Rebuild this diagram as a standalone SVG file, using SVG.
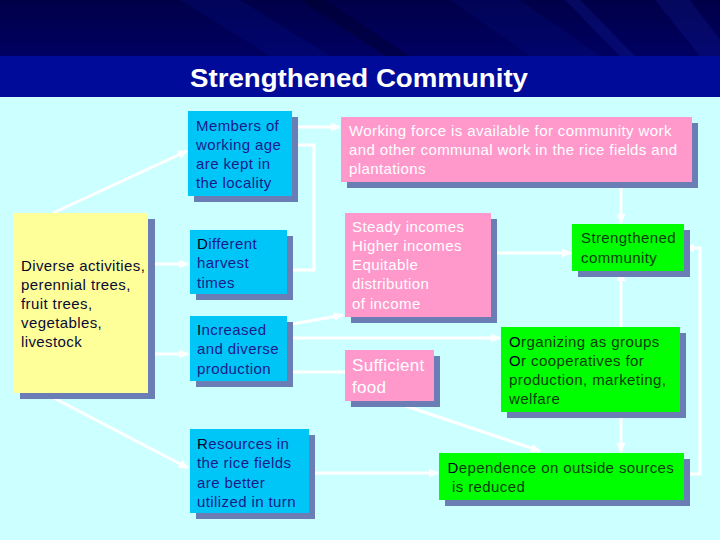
<svg xmlns="http://www.w3.org/2000/svg" width="720" height="540" viewBox="0 0 720 540">
<defs>
<linearGradient id="hdr" x1="0" y1="0" x2="0" y2="1">
<stop offset="0" stop-color="#000048"/>
<stop offset="1" stop-color="#000062"/>
</linearGradient>
<marker id="ah" markerUnits="userSpaceOnUse" markerWidth="10" markerHeight="9" refX="9" refY="4.5" orient="auto">
<path d="M0,0 L10,4.5 L0,9 z" fill="#ffffff"/>
</marker>
<style>
.sh{fill:#6a7db5}
.bl{fill:#00c6f8}
.pk{fill:#ff99cc}
.gr{fill:#00ff00}
.ye{fill:#ffff99}
text{font-family:"Liberation Sans",Arial,sans-serif;font-size:15px;letter-spacing:0.4px}
.tb{fill:#1a1a8a}
.ty{fill:#0a0a33}
.tw{fill:#ffffff}
.tg{fill:#0b3d0b}
.dk{fill:#000022}
.con{fill:none;stroke:#ffffff;stroke-width:3}
.arr{marker-end:url(#ah)}
</style>
</defs>
<rect x="0" y="0" width="720" height="540" fill="#ccffff"/>
<g id="header">
<rect x="0" y="0" width="720" height="56" fill="url(#hdr)"/>
<polygon points="180,0 240,0 330,56 270,56" fill="#0818a0" opacity="0.18"/>
<polygon points="300,0 325,0 410,56 385,56" fill="#000028" opacity="0.4"/>
<polygon points="450,0 520,0 600,56 530,56" fill="#0818a0" opacity="0.15"/>
<polygon points="565,0 580,0 635,56 620,56" fill="#1828b0" opacity="0.22"/>
<polygon points="655,0 690,0 720,40 720,56 700,56" fill="#1828b0" opacity="0.2"/>
<rect x="0" y="56" width="720" height="41" fill="#000b99"/>
<text x="190" y="87" textLength="338" lengthAdjust="spacingAndGlyphs" style="font-size:25px;font-weight:bold;fill:#ffffff;letter-spacing:0">Strengthened Community</text>
</g>
<g id="connectors">
<line class="con arr" x1="53" y1="213" x2="187" y2="151"/>
<line class="con arr" x1="155" y1="264" x2="188" y2="264"/>
<line class="con arr" x1="155" y1="354" x2="188" y2="354"/>
<line class="con arr" x1="48" y1="395" x2="188" y2="468"/>
<line class="con arr" x1="298" y1="127" x2="340" y2="127"/>
<path class="con" d="M292,145 H314 V270 H287"/>
<line class="con arr" x1="287" y1="325" x2="343" y2="315"/>
<line class="con arr" x1="293" y1="338" x2="500" y2="338"/>
<line class="con" x1="293" y1="372" x2="345" y2="372"/>
<line class="con arr" x1="315" y1="473" x2="438" y2="473"/>
<line class="con arr" x1="621" y1="188" x2="621" y2="223"/>
<line class="con arr" x1="497" y1="253" x2="571" y2="253"/>
<line class="con arr" x1="621" y1="327" x2="621" y2="272"/>
<path class="con arr" d="M690,474 H700 V248 H685"/>
<line class="con arr" x1="388" y1="400" x2="540" y2="451"/>
<line class="con arr" x1="621" y1="418" x2="621" y2="452"/>
</g>
<g id="diverse">
<rect class="sh" x="20" y="219" width="135" height="180"/>
<rect class="ye" x="14" y="213" width="134" height="180"/>
<text class="ty" x="21" y="270.5"><tspan class="dk">D</tspan>iverse activities,<tspan x="21" y="289.7">perennial trees,</tspan><tspan x="21" y="308.9">fruit trees,</tspan><tspan x="21" y="328.1">vegetables,</tspan><tspan x="21" y="347.3">livestock</tspan></text>
</g>
<g id="members">
<rect class="sh" x="194" y="117" width="104" height="85"/>
<rect class="bl" x="188" y="111" width="104" height="85"/>
<text class="tb" x="196" y="130.5">Members of<tspan x="196" y="149.8">working age</tspan><tspan x="196" y="169.1">are kept in</tspan><tspan x="196" y="188.4">the locality</tspan></text>
</g>
<g id="harvest">
<rect class="sh" x="196" y="236" width="97" height="64"/>
<rect class="bl" x="190" y="230" width="97" height="64"/>
<text class="tb" x="197" y="249"><tspan class="dk">D</tspan>ifferent<tspan x="197" y="268.3">harvest</tspan><tspan x="197" y="287.6">times</tspan></text>
</g>
<g id="increased">
<rect class="sh" x="196" y="322" width="97" height="65"/>
<rect class="bl" x="190" y="316" width="97" height="65"/>
<text class="tb" x="197" y="335"><tspan class="dk">I</tspan>ncreased<tspan x="197" y="354.3">and diverse</tspan><tspan x="197" y="373.6">production</tspan></text>
</g>
<g id="resources">
<rect class="sh" x="196" y="435" width="119" height="84"/>
<rect class="bl" x="190" y="429" width="119" height="84"/>
<text class="tb" x="197" y="449"><tspan class="dk">R</tspan>esources in<tspan x="197" y="468.3">the rice fields</tspan><tspan x="197" y="487.6">are better</tspan><tspan x="197" y="506.9">utilized in turn</tspan></text>
</g>
<g id="workforce">
<rect class="sh" x="347" y="123" width="351" height="65"/>
<rect class="pk" x="341" y="117" width="351" height="65"/>
<text class="tw" x="349" y="135.5">Working force is available for community work<tspan x="349" y="154.8">and other communal work in the rice fields and</tspan><tspan x="349" y="174.1">plantations</tspan></text>
</g>
<g id="incomes">
<rect class="sh" x="351" y="219" width="146" height="104"/>
<rect class="pk" x="345" y="213" width="146" height="104"/>
<text class="tw" x="352" y="231.5">Steady incomes<tspan x="352" y="250.8">Higher incomes</tspan><tspan x="352" y="270.1">Equitable</tspan><tspan x="352" y="289.4">distribution</tspan><tspan x="352" y="308.7">of income</tspan></text>
</g>
<g id="food">
<rect class="sh" x="351" y="356" width="89" height="51"/>
<rect class="pk" x="345" y="350" width="89" height="51"/>
<text class="tw" x="352" y="370.7" style="font-size:17px;letter-spacing:0.3px">Sufficient<tspan x="352" y="392.7">food</tspan></text>
</g>
<g id="strengthened">
<rect class="sh" x="578" y="230" width="112" height="47"/>
<rect class="gr" x="572" y="224" width="112" height="47"/>
<text class="tg" x="581" y="243.3">Strengthened<tspan x="581" y="262.6">community</tspan></text>
</g>
<g id="organizing">
<rect class="sh" x="507" y="333" width="179" height="85"/>
<rect class="gr" x="501" y="327" width="179" height="85"/>
<text class="tg" x="509" y="346.7"><tspan class="dk">O</tspan>rganizing as groups<tspan x="509" y="365.7" class="dk">O</tspan>r cooperatives for<tspan x="509" y="384.7">production, marketing,</tspan><tspan x="509" y="403.5">welfare</tspan></text>
</g>
<g id="dependence">
<rect class="sh" x="445" y="459" width="245" height="47"/>
<rect class="gr" x="439" y="453" width="245" height="47"/>
<text class="tg" x="447.5" y="472.7"><tspan class="dk">D</tspan>ependence on outside sources<tspan x="452" y="491.7">is reduced</tspan></text>
</g>
</svg>
